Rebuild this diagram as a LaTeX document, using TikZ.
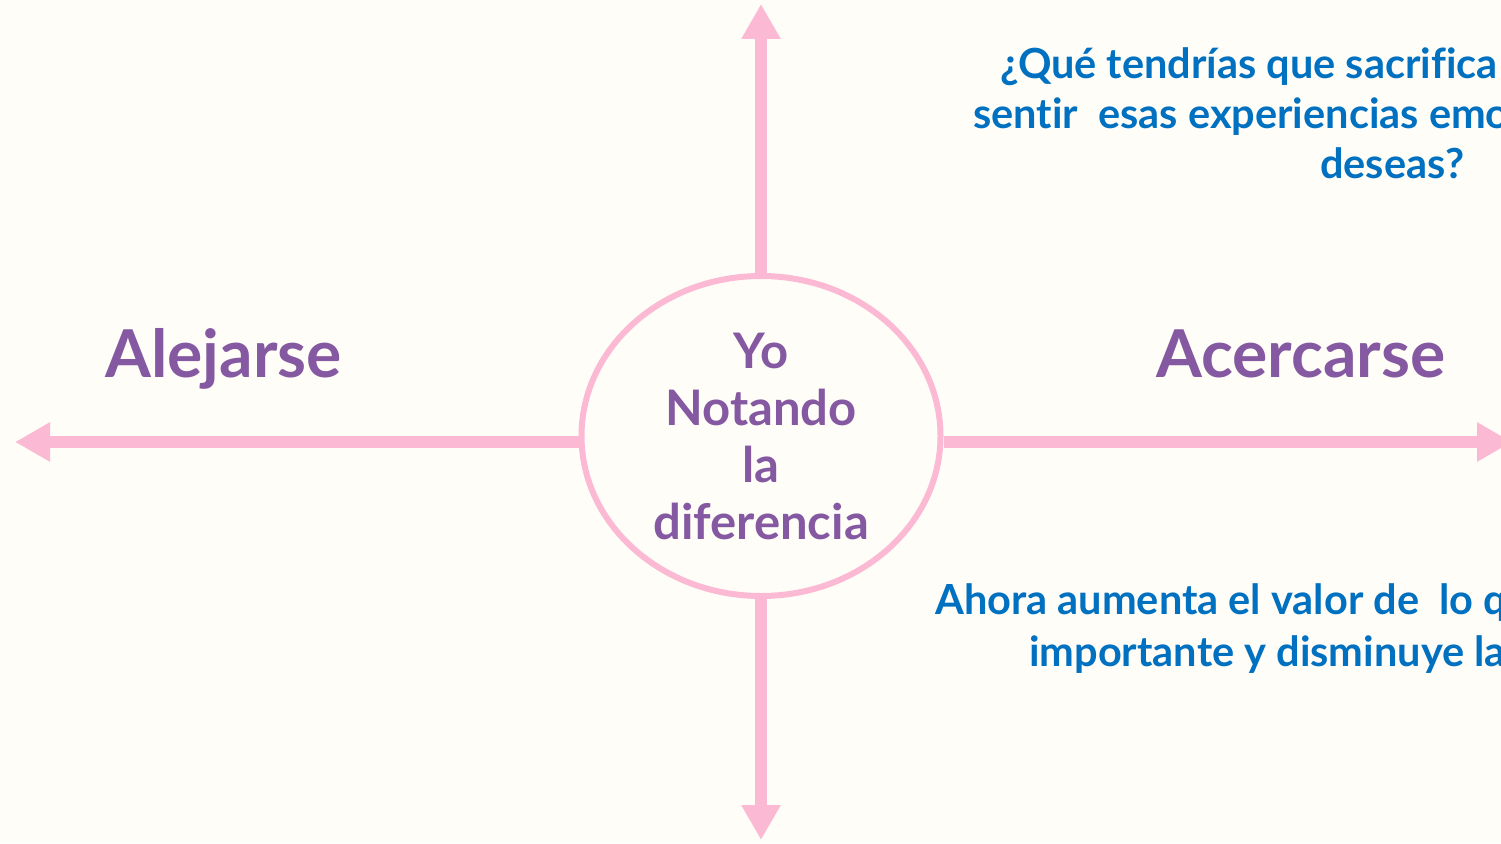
\documentclass[tikz,border=0pt]{standalone}
\usepackage{fontspec}
\setmainfont{Lato}[Ligatures=NoCommon]
\usepackage{tikz}
\usetikzlibrary{arrows.meta,shapes.geometric}

\definecolor{paper}{HTML}{FFFDF8}
\definecolor{rosa}{HTML}{FBB9D3}
\definecolor{lila}{HTML}{8559A1}
\definecolor{azul}{HTML}{0070C0}

\begin{document}
\begin{tikzpicture}[x=1pt, y=-1pt,
    axis/.style={rosa, line width=12pt, -{Triangle[length=35pt, width=37pt]}},
    side/.style={text=lila, font=\fontsize{66}{80}\selectfont\bfseries, anchor=base west, inner sep=0},
    ask/.style={text=azul, font=\fontsize{41.5}{50}\selectfont\bfseries, anchor=base west, inner sep=0}]
    % page
    \fill[paper] (0,0) rectangle (1501,843);
    \useasboundingbox (0,0) rectangle (1501,843);

    % me
    \node[ellipse, draw=rosa, line width=6pt, fill=paper, minimum width=359pt, minimum height=320pt,
          inner sep=0, align=center, text=lila, font=\fontsize{49}{57}\selectfont\bfseries] (yo) at (761,436)
          {Yo\\Notando\\la\\diferencia};

    % arrow tips
    \coordinate (izq) at (15,442);
    \coordinate (der) at (1512,442);
    \coordinate (arr) at (761,4);
    \coordinate (aba) at (761,840);

    % axes
    \draw[axis] (yo.west |- izq) -- (izq);
    \draw[axis] (yo.east |- der) -- (der);
    \draw[axis] (yo.north) -- (arr);
    \draw[axis] (yo.south) -- (aba);

    % sides
    \node[side] (alejarse) at (105,377) {Alejarse};
    \node[side] (acercarse) at (1156,377) {Acercarse};

    % question
    \node[ask] (q1) at (1000,78) {¿Qué tendrías que sacrifica};
    \node[ask] (q2) at (973,128) {sentir\ \ esas experiencias emo};
    \node[ask] (q3) at (1320,178) {deseas?};

    % hint
    \node[ask] (h1) at (935,614) {Ahora aumenta el valor de\ \ lo q};
    \node[ask] (h2) at (1029,666) {importante y disminuye la};
\end{tikzpicture}
\end{document}
